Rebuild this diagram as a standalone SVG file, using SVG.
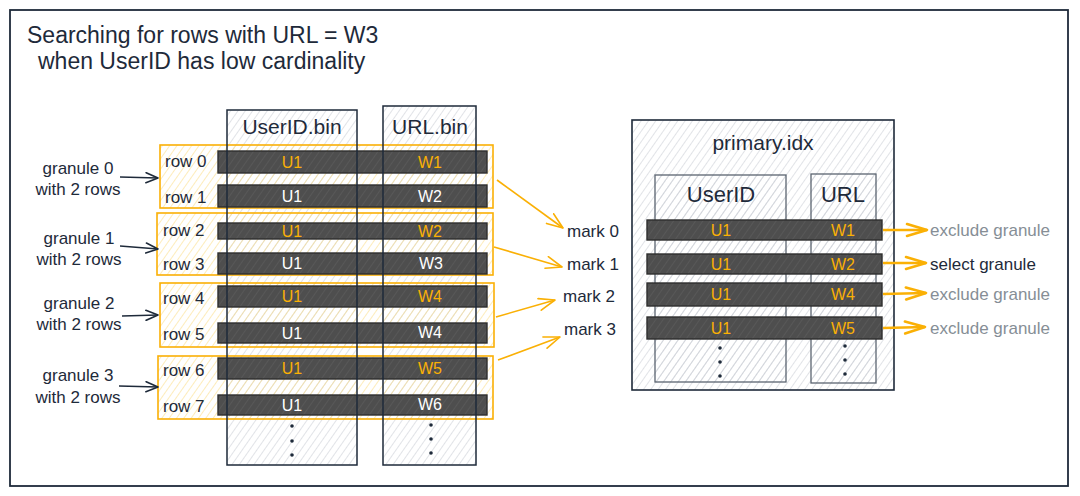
<svg xmlns="http://www.w3.org/2000/svg" width="1080" height="496" viewBox="0 0 1080 496">
<defs>
<pattern id="hg" width="6" height="6" patternUnits="userSpaceOnUse" patternTransform="rotate(35)"><line x1="0" y1="0" x2="0" y2="6" stroke="#c3c8cf" stroke-width="1"/></pattern>
<pattern id="hy" width="6" height="6" patternUnits="userSpaceOnUse" patternTransform="rotate(35)"><line x1="0" y1="0" x2="0" y2="6" stroke="#fcd977" stroke-width="1"/></pattern>
<pattern id="hd" width="6" height="6" patternUnits="userSpaceOnUse" patternTransform="rotate(35)"><rect width="6" height="6" fill="#4e4e4e"/><line x1="0" y1="0" x2="0" y2="6" stroke="#5e5e5e" stroke-width="1.2"/></pattern>
<marker id="ad" viewBox="0 0 14 12" refX="13" refY="6" markerWidth="14" markerHeight="12" markerUnits="userSpaceOnUse" orient="auto"><path d="M1,1 L13,6 L1,11" fill="none" stroke="#1e2a3a" stroke-width="1.6" stroke-linecap="round" stroke-linejoin="round"/></marker>
<marker id="ao" viewBox="0 0 18 14" refX="17" refY="7" markerWidth="18" markerHeight="14" markerUnits="userSpaceOnUse" orient="auto"><path d="M1,1 L17,7 L1,13" fill="none" stroke="#fab005" stroke-width="1.6" stroke-linecap="round" stroke-linejoin="round"/></marker>
<marker id="aot" viewBox="0 0 24 16" refX="22" refY="8" markerWidth="24" markerHeight="16" markerUnits="userSpaceOnUse" orient="auto"><path d="M2,2 L22,8 L2,14" fill="none" stroke="#fab005" stroke-width="2.6" stroke-linecap="round" stroke-linejoin="round"/></marker>
</defs>
<style>
text{font-family:"Liberation Sans",Arial,sans-serif;fill:#1e2a3a}
.t{font-size:23px}
.h{font-size:21px;text-anchor:middle}
.l{font-size:17px}
.lc{font-size:17px;text-anchor:middle}
.c{font-size:16px;text-anchor:middle}
.o{fill:#fab005}
.w{fill:#ffffff}
.g{fill:#868e96}
.col{fill:url(#hg);stroke:none}
.colline{fill:none;stroke:#1e2a3a;stroke-width:1.5}
.gran{fill:url(#hy);stroke:#fab005;stroke-width:1.6}
.bar{fill:url(#hd);stroke:#2e2e2e;stroke-width:1.4}
.dot{fill:#1e2a3a}
.cd{fill:none;stroke:#1e2a3a;stroke-width:1.6;marker-end:url(#ad)}
.co{fill:none;stroke:#fab005;stroke-width:1.6;marker-end:url(#ao)}
.cot{fill:none;stroke:#fab005;stroke-width:2.6;marker-end:url(#aot)}
</style>
<rect x="0" y="0" width="1080" height="496" fill="#ffffff"/>
<g id="frame"><rect x="10" y="10" width="1058" height="476" fill="#ffffff" stroke="#1e2a3a" stroke-width="1.8"/></g>
<g id="title">
<text class="t" x="27" y="43">Searching for rows with URL = W3</text>
<text class="t" x="38" y="69">when UserID has low cardinality</text>
</g>
<g id="col-userid-bin-bg"><rect class="col" x="227" y="110" width="130" height="355"/></g>
<g id="col-url-bin-bg"><rect class="col" x="383" y="106" width="93" height="359"/></g>
<g id="granule-0"><rect class="gran" x="160" y="145" width="333" height="63"/></g>
<g id="granule-1"><rect class="gran" x="157" y="213" width="336" height="62"/></g>
<g id="granule-2"><rect class="gran" x="160" y="283" width="334" height="64"/></g>
<g id="granule-3"><rect class="gran" x="158" y="356" width="335" height="63"/></g>
<g id="rows">
<rect class="bar" x="218" y="151" width="269" height="22"/>
<rect class="bar" x="218" y="185" width="269" height="22"/>
<rect class="bar" x="218" y="223" width="269" height="16"/>
<rect class="bar" x="218" y="253" width="269" height="21"/>
<rect class="bar" x="218" y="286" width="269" height="21"/>
<rect class="bar" x="218" y="323" width="269" height="20"/>
<rect class="bar" x="218" y="358" width="269" height="21"/>
<rect class="bar" x="218" y="395" width="269" height="20"/>
</g>
<g id="col-userid-bin">
<rect class="colline" x="227" y="110" width="130" height="355"/>
<text class="h" x="292" y="134">UserID.bin</text>
<circle class="dot" cx="292" cy="426" r="1.8"/><circle class="dot" cx="292" cy="441" r="1.8"/><circle class="dot" cx="292" cy="455" r="1.8"/>
</g>
<g id="col-url-bin">
<rect class="colline" x="383" y="106" width="93" height="359"/>
<text class="h" x="430" y="134">URL.bin</text>
<circle class="dot" cx="431" cy="425" r="1.8"/><circle class="dot" cx="431" cy="439" r="1.8"/><circle class="dot" cx="431" cy="453" r="1.8"/>
</g>
<g id="row-labels">
<text class="l" x="165" y="167">row 0</text>
<text class="l" x="165" y="203">row 1</text>
<text class="l" x="163" y="236">row 2</text>
<text class="l" x="163" y="270">row 3</text>
<text class="l" x="163" y="304">row 4</text>
<text class="l" x="163" y="340">row 5</text>
<text class="l" x="163" y="376">row 6</text>
<text class="l" x="163" y="412">row 7</text>
</g>
<g id="cells">
<text class="c o" x="292" y="168">U1</text><text class="c o" x="430" y="168">W1</text>
<text class="c w" x="292" y="202">U1</text><text class="c w" x="430" y="202">W2</text>
<text class="c o" x="292" y="237">U1</text><text class="c o" x="430" y="237">W2</text>
<text class="c w" x="292" y="269">U1</text><text class="c w" x="431" y="269">W3</text>
<text class="c o" x="292" y="302">U1</text><text class="c o" x="430" y="302">W4</text>
<text class="c w" x="292" y="339">U1</text><text class="c w" x="430" y="338">W4</text>
<text class="c o" x="292" y="374">U1</text><text class="c o" x="430" y="374">W5</text>
<text class="c w" x="292" y="411">U1</text><text class="c w" x="430" y="410">W6</text>
</g>
<g id="granule-labels">
<text class="lc" x="78" y="174">granule 0</text><text class="lc" x="78" y="195">with 2 rows</text>
<text class="lc" x="79" y="244">granule 1</text><text class="lc" x="79" y="265">with 2 rows</text>
<text class="lc" x="79" y="309">granule 2</text><text class="lc" x="79" y="330">with 2 rows</text>
<text class="lc" x="78" y="381">granule 3</text><text class="lc" x="78" y="403">with 2 rows</text>
</g>
<g id="marks">
<text class="l" x="567" y="237">mark 0</text>
<text class="l" x="567" y="270">mark 1</text>
<text class="l" x="563" y="302">mark 2</text>
<text class="l" x="564" y="335">mark 3</text>
</g>
<g id="primary-idx">
<rect x="632" y="120" width="262" height="270" fill="url(#hg)" stroke="#1e2a3a" stroke-width="1.6"/>
<text class="h" x="763" y="150">primary.idx</text>
<rect x="655" y="175" width="131" height="207" fill="url(#hg)" stroke="#5b6470" stroke-width="1.3"/>
<rect x="811" y="174" width="65" height="209" fill="url(#hg)" stroke="#5b6470" stroke-width="1.3"/>
<text class="h" x="721" y="202" style="font-size:22px">UserID</text>
<text class="h" x="843" y="202" style="font-size:22px">URL</text>
<rect class="bar" x="647" y="220" width="235" height="20"/>
<rect class="bar" x="647" y="254" width="235" height="20"/>
<rect class="bar" x="647" y="283" width="235" height="23"/>
<rect class="bar" x="647" y="317" width="235" height="22"/>
<text class="c o" x="721" y="236">U1</text><text class="c o" x="843" y="236">W1</text>
<text class="c o" x="721" y="270">U1</text><text class="c o" x="843" y="270">W2</text>
<text class="c o" x="721" y="300">U1</text><text class="c o" x="843" y="300">W4</text>
<text class="c o" x="721" y="334">U1</text><text class="c o" x="843" y="334">W5</text>
<circle class="dot" cx="720" cy="348" r="1.8"/><circle class="dot" cx="720" cy="362" r="1.8"/><circle class="dot" cx="720" cy="376" r="1.8"/>
<circle class="dot" cx="845" cy="346" r="1.8"/><circle class="dot" cx="845" cy="360" r="1.8"/><circle class="dot" cx="845" cy="374" r="1.8"/>
</g>
<g id="results">
<text class="l g" x="930" y="236">exclude granule</text>
<text class="l" x="930" y="270">select granule</text>
<text class="l g" x="930" y="300">exclude granule</text>
<text class="l g" x="930" y="334">exclude granule</text>
</g>
<g id="connectors">
<path class="cd" d="M120,177 L158,178"/>
<path class="cd" d="M120,246 L158,249"/>
<path class="cd" d="M122,316 L158,315"/>
<path class="cd" d="M119,386 L158,387"/>
<path class="co" d="M497,180 L563,228"/>
<path class="co" d="M494,247 L562,267"/>
<path class="co" d="M496,317 L555,300"/>
<path class="co" d="M498,360 L560,337"/>
<path class="cot" d="M883,230 L927,230"/>
<path class="cot" d="M883,263 L926,263"/>
<path class="cot" d="M883,294 L926,293"/>
<path class="cot" d="M883,328 L925,327"/>
</g>
</svg>
